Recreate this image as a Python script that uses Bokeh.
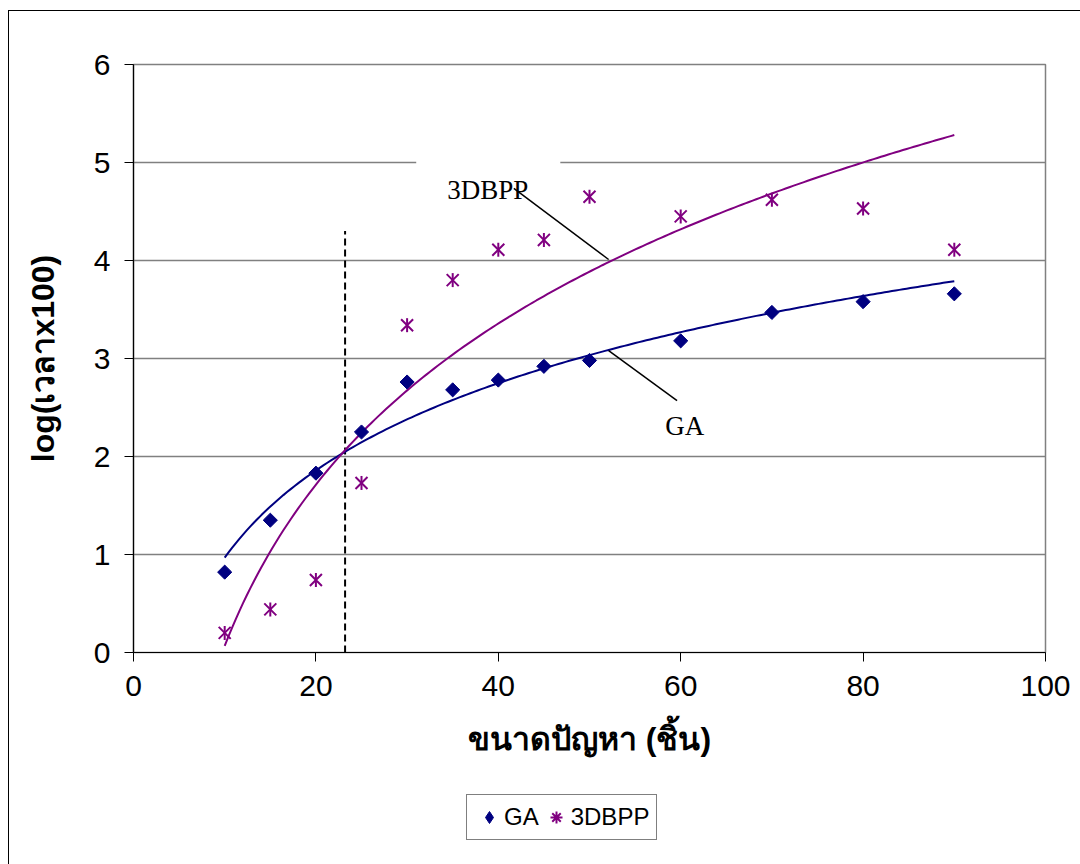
import numpy as np
from bokeh.plotting import figure
from bokeh.layouts import column
from bokeh.models import (ColumnDataSource, Legend, LegendItem, FixedTicker, Range1d)
from bokeh.core.properties import value
from bokeh.embed import file_html
from bokeh.resources import INLINE

# ---------------- data ----------------
sizes = [10, 15, 20, 25, 30, 35, 40, 45, 50, 60, 70, 80, 90]
ga_vals = [0.82, 1.35, 1.83, 2.25, 2.76, 2.68, 2.78, 2.92, 2.98, 3.18, 3.47, 3.58, 3.66]
bpp_vals = [0.20, 0.44, 0.74, 1.73, 3.34, 3.80, 4.11, 4.21, 4.65, 4.45, 4.62, 4.53, 4.11]
x_ticks = [0, 20, 40, 60, 80, 100]
y_ticks = [0, 1, 2, 3, 4, 5, 6]
cut_x = 23.2          # dashed reference line position
cut_top = 4.3

x_title = "ขนาดปัญหา (ชิ้น)"
y_title = "log(เวลาx100)"

NAVY = "#000080"
PURPLE = "#800080"

# logarithmic trend lines (least squares on ln x), as in the spreadsheet
xs = np.array(sizes, dtype=float)
a_ga, b_ga = np.polyfit(np.log(xs), np.array(ga_vals), 1)
a_bp, b_bp = np.polyfit(np.log(xs), np.array(bpp_vals), 1)
tx = np.linspace(min(sizes), max(sizes), 200)
trend = ColumnDataSource(dict(x=tx, ga=a_ga * np.log(tx) + b_ga, bp=a_bp * np.log(tx) + b_bp))
pts = ColumnDataSource(dict(x=sizes, ga=ga_vals, bp=bpp_vals))

W = 1071
main = figure(width=W, height=779, output_backend="svg", toolbar_location=None,
              x_range=Range1d(0, 100), y_range=Range1d(0, 6),
              min_border_left=124, min_border_right=35, min_border_top=53,
              min_border_bottom=138)
main.background_fill_color = "white"
main.border_fill_color = "white"
main.outline_line_color = "#808080"
main.outline_line_width = 1.5

main.xgrid.grid_line_color = None
main.ygrid.grid_line_color = "#808080"
main.ygrid.grid_line_width = 1.5

for ax in (main.xaxis[0], main.yaxis[0]):
    ax.major_tick_in = 0
    ax.major_tick_out = 9
    ax.minor_tick_out = 0
    ax.minor_tick_in = 0
    ax.axis_line_color = "black"
    ax.axis_line_width = 1.2
    ax.major_tick_line_color = "black"
    ax.major_label_text_font = "Liberation Sans"
    ax.major_label_text_font_size = "30px"
    ax.major_label_text_color = "black"
    ax.axis_label_text_font = "Liberation Sans"
    ax.axis_label_text_font_style = "bold"
    ax.axis_label_text_font_size = "32px"
    ax.axis_label_text_color = "black"

main.xaxis.ticker = FixedTicker(ticks=x_ticks)
main.yaxis.ticker = FixedTicker(ticks=y_ticks)
main.xaxis.major_label_standoff = 14
main.yaxis.major_label_standoff = 14
main.xaxis.axis_label = x_title
main.yaxis.axis_label = y_title
main.xaxis.axis_label_standoff = 22
main.yaxis.axis_label_standoff = 30

# white box behind the "3DBPP" callout
main.quad(left=31.0, right=46.8, bottom=4.62, top=5.1, fill_color="white", line_color=None)

# dashed reference line
main.segment(x0=[cut_x], y0=[0], x1=[cut_x], y1=[cut_top], line_color="black",
             line_width=2, line_dash="7 4")

# trend lines
main.line("x", "ga", source=trend, line_color=NAVY, line_width=2)
main.line("x", "bp", source=trend, line_color=PURPLE, line_width=2)

# points: GA diamonds, 3DBPP six-armed stars (X plus vertical bar)
main.scatter("x", "ga", source=pts, marker="square", angle=np.pi / 4, size=10,
             fill_color=NAVY, line_color=NAVY)
main.scatter("x", "bp", source=pts, marker="x", size=17,
             line_color=PURPLE, line_width=2)
main.scatter("x", "bp", source=pts, marker="dash", angle=np.pi / 2, size=14,
             line_color=PURPLE, line_width=2)

# callouts
main.segment(x0=[41.7, 52.1], y0=[4.735, 3.08], x1=[52.1, 59.6], y1=[4.01, 2.57],
             line_color="black", line_width=1.5)
main.text(x=[34.4, 58.3], y=[4.72, 2.31], text=["3DBPP", "GA"],
          text_font=value("Liberation Serif"), text_font_size="27px",
          text_color="black", text_baseline="alphabetic", text_align="left")

# ---------------- legend strip ----------------
leg = figure(width=W, height=74, output_backend="svg", toolbar_location=None,
             x_range=Range1d(0, 1), y_range=Range1d(0, 1),
             min_border_left=0, min_border_right=0, min_border_top=0, min_border_bottom=0)
leg.axis.visible = False
leg.grid.visible = False
leg.outline_line_color = None
leg.background_fill_color = "white"
leg.border_fill_color = "white"
nan_src = ColumnDataSource(dict(x=[np.nan], y=[np.nan]))
l_ga = leg.scatter("x", "y", source=nan_src, marker="diamond", size=14,
                   fill_color=NAVY, line_color=NAVY)
l_bp = leg.scatter("x", "y", source=nan_src, marker="asterisk", size=14,
                   line_color=PURPLE, line_width=2)

legend = Legend(items=[LegendItem(label="GA", renderers=[l_ga]),
                       LegendItem(label="3DBPP", renderers=[l_bp])],
                orientation="horizontal", location=(333, 24))
legend.label_text_font = "Liberation Sans"
legend.label_text_font_size = "24px"
legend.label_text_color = "black"
legend.border_line_color = "black"
legend.border_line_width = 1.2
legend.background_fill_color = "white"
legend.glyph_width = 30
legend.glyph_height = 30
legend.spacing = 2
legend.label_standoff = 0
legend.padding = 7
legend.margin = 0
leg.add_layout(legend, "center")

p = column(main, leg, spacing=0,
           styles={"margin-left": "8px", "margin-top": "10px",
                   "border-left": "1px solid black", "border-top": "1px solid black"})

open("out.html", "w").write(file_html(p, INLINE))
